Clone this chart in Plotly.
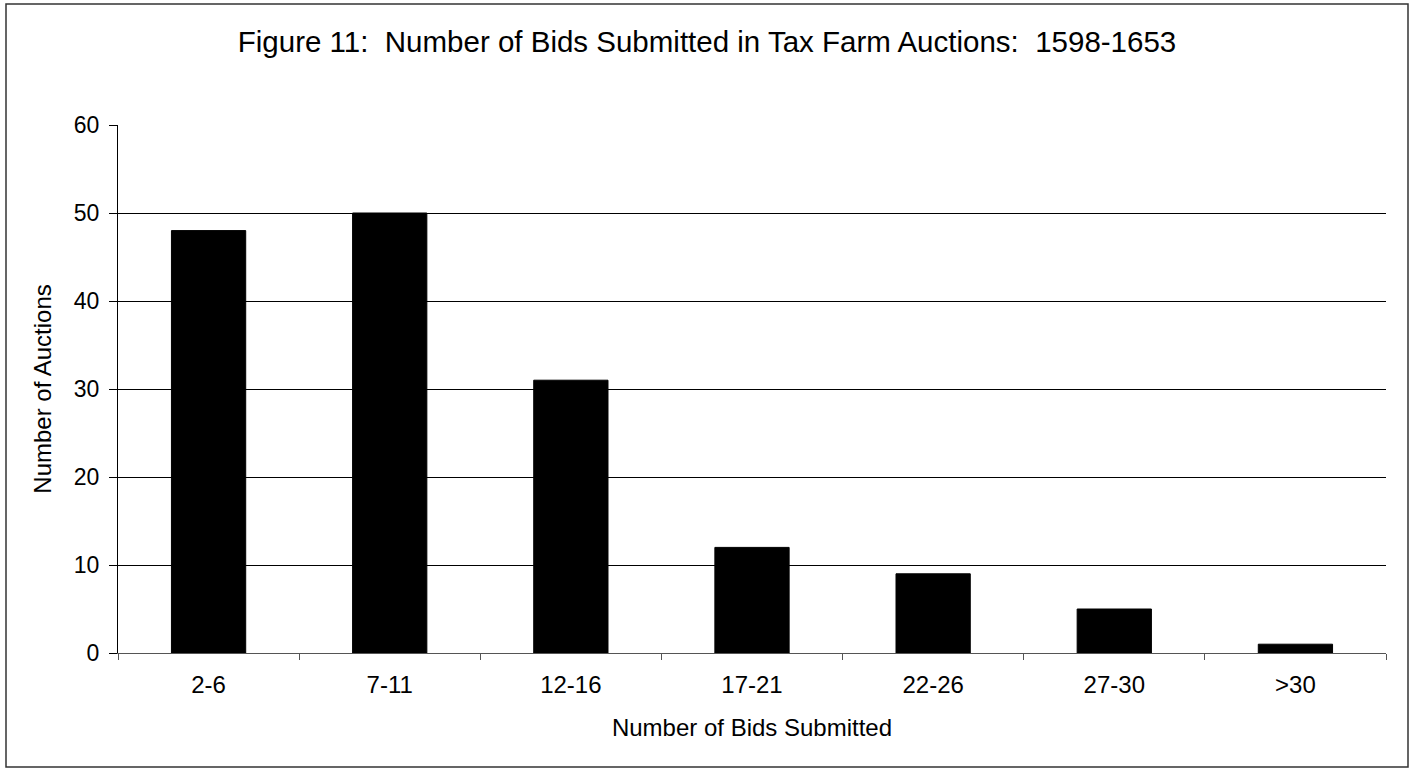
import plotly.graph_objects as go

# Bid-count bins and number of auctions in each
bins = ["2-6", "7-11", "12-16", "17-21", "22-26", "27-30", ">30"]
auctions = [48, 50, 31, 12, 9, 5, 1]
y_ticks = [0, 10, 20, 30, 40, 50, 60]

font_family = "Liberation Sans, Arial, sans-serif"
NB = "\u00a0"  # keeps the double spacing in the title

fig = go.Figure(
    go.Bar(
        x=bins,
        y=auctions,
        width=0.41,
        marker=dict(color="black", line=dict(color="black", width=1)),
    )
)

# Plot area in pixels: x 118..1386, y 125..653
L, R, T, B = 118, 28, 125, 121
W, H = 1414, 774
pw, ph = W - L - R, H - T - B

def px_x(x):
    return (x - L) / pw

def px_y(y):
    return (H - B - y) / ph

title_text = ("Figure 11:" + NB + " Number of Bids Submitted in Tax Farm Auctions:"
              + NB + " 1598-1653")

fig.update_layout(
    width=W,
    height=H,
    margin=dict(l=L, r=R, t=T, b=B),
    paper_bgcolor="white",
    plot_bgcolor="white",
    showlegend=False,
    font=dict(family=font_family, size=23, color="black"),
    title=dict(
        text=title_text,
        x=0.5,
        xanchor="center",
        y=1 - 42 / H,
        yanchor="middle",
        font=dict(family=font_family, size=29.5, color="black"),
    ),
    xaxis=dict(
        title=dict(text="Number of Bids Submitted", standoff=22,
                   font=dict(size=24)),
        type="category",
        tickson="boundaries",
        ticks="outside",
        ticklen=6,
        tickcolor="#555555",
        ticklabelstandoff=10,
        showline=True,
        linecolor="#555555",
        linewidth=1,
        showgrid=False,
        tickfont=dict(size=24),
    ),
    yaxis=dict(
        title=dict(text="Number of Auctions", standoff=15,
                   font=dict(size=24)),
        range=[0, 60],
        tickvals=y_ticks,
        ticks="outside",
        ticklen=8,
        tickcolor="black",
        ticklabelstandoff=5,
        showline=True,
        linecolor="black",
        linewidth=1,
        showgrid=True,
        gridcolor="black",
        gridwidth=1,
        zeroline=False,
        tickfont=dict(size=23),
    ),
    shapes=[
        dict(
            type="rect",
            xref="paper",
            yref="paper",
            x0=px_x(6),
            x1=px_x(1408),
            y0=px_y(767),
            y1=px_y(4),
            line=dict(color="#333333", width=1.5),
            fillcolor="rgba(0,0,0,0)",
            layer="below",
        )
    ],
)

fig.write_html("out.html")
